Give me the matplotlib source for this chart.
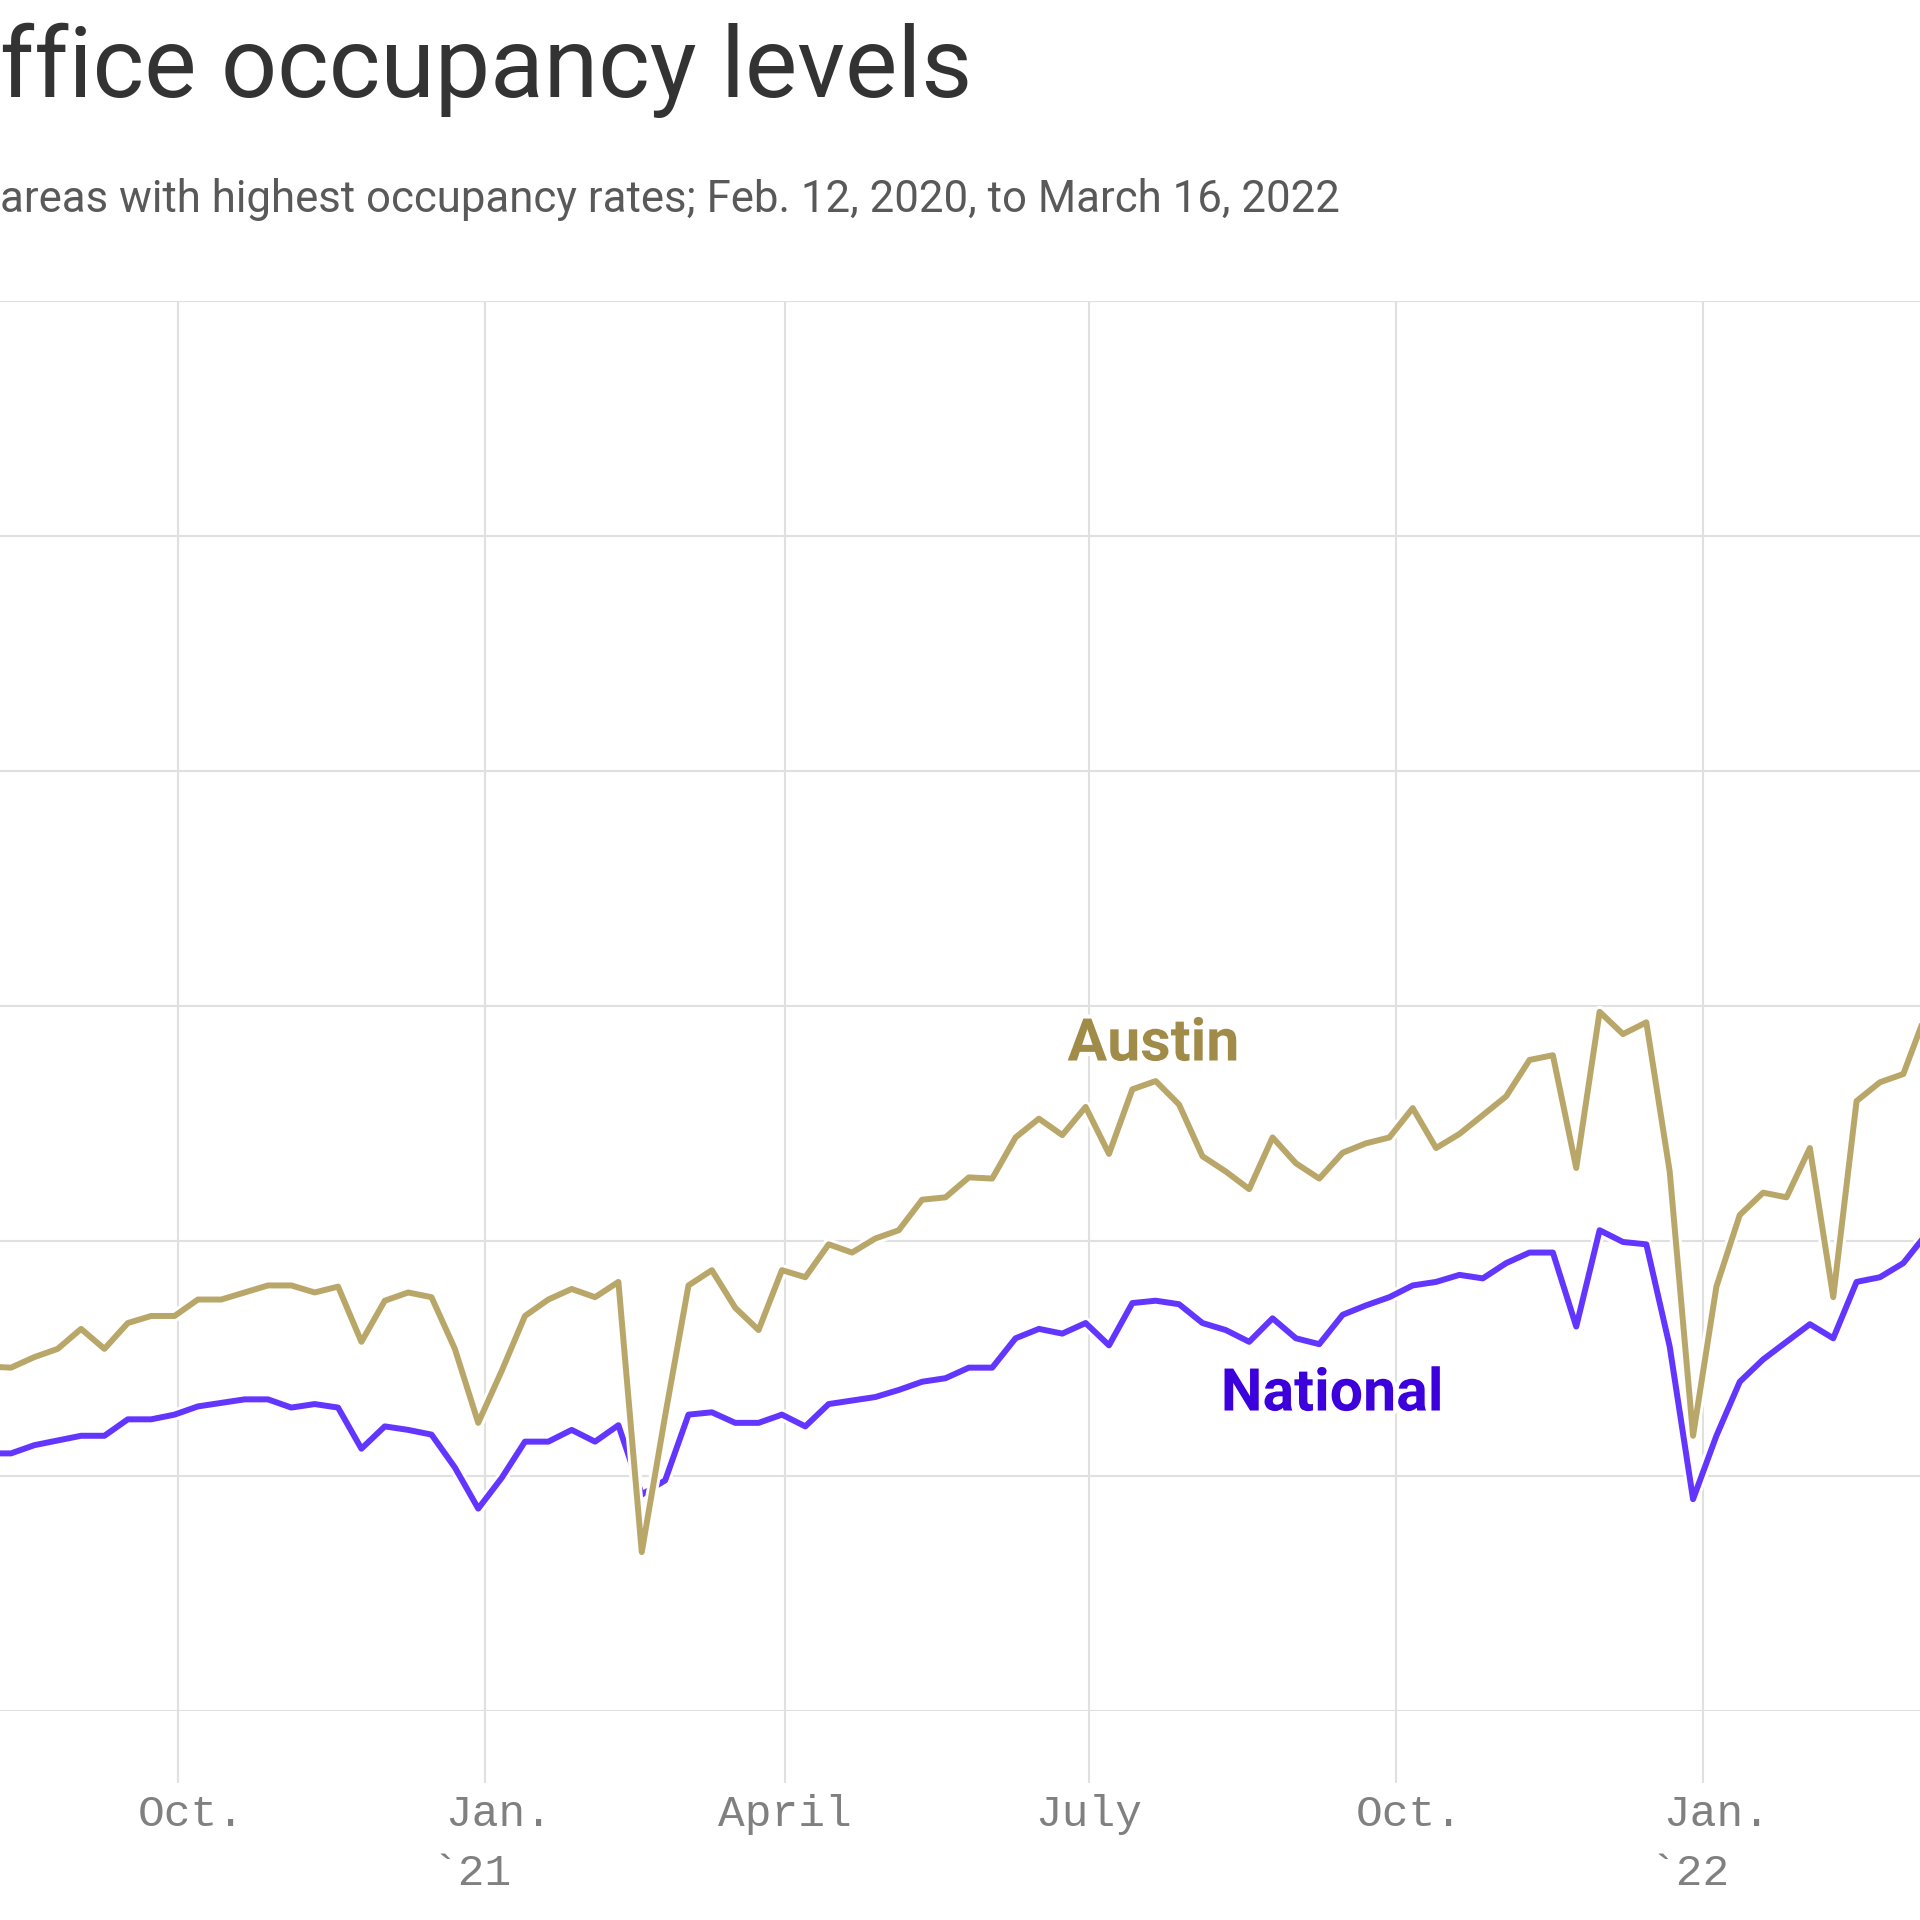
import matplotlib
matplotlib.use("Agg")
import matplotlib.pyplot as plt
import matplotlib.dates as mdates
import matplotlib.patheffects as pe
from matplotlib.transforms import ScaledTranslation
import pandas as pd

# weekly readings (Wednesdays), starting Aug. 5, 2020
start_week = "2020-08-05"
austin = [
    29.3, 29.2, 30.1, 30.8, 32.5, 30.8, 33.0, 33.6, 33.6, 35.0, 35.0, 35.6,
    36.2, 36.2, 35.6, 36.1, 31.4, 34.9, 35.6, 35.2, 30.8, 24.5, 28.9, 33.6,
    35.0, 35.9, 35.2, 36.5, 13.5, 25.1, 36.2, 37.5, 34.3, 32.4, 37.5, 36.9,
    39.7, 39.0, 40.2, 40.9, 43.5, 43.7, 45.4, 45.3, 48.8, 50.4, 49.0, 51.4,
    47.4, 52.9, 53.6, 51.6, 47.2, 45.9, 44.4, 48.8, 46.6, 45.3, 47.5, 48.3,
    48.8, 51.3, 47.9, 49.1, 50.7, 52.3, 55.4, 55.8, 46.2, 59.5, 57.6, 58.6,
    45.9, 23.4, 36.1, 42.2, 44.1, 43.7, 47.9, 35.2, 51.9, 53.5, 54.2, 59.5,
    60.5,
]
national = [
    21.9, 21.9, 22.6, 23.0, 23.4, 23.4, 24.8, 24.8, 25.2, 25.9, 26.2, 26.5,
    26.5, 25.8, 26.1, 25.8, 22.3, 24.2, 23.9, 23.5, 20.7, 17.2, 19.8, 22.9,
    22.9, 23.9, 22.9, 24.3, 18.4, 19.6, 25.2, 25.4, 24.5, 24.5, 25.2, 24.2,
    26.1, 26.4, 26.7, 27.3, 28.0, 28.3, 29.2, 29.2, 31.7, 32.5, 32.1, 33.0,
    31.1, 34.7, 34.9, 34.6, 33.0, 32.4, 31.4, 33.4, 31.7, 31.2, 33.7, 34.5,
    35.2, 36.2, 36.5, 37.1, 36.8, 38.1, 39.0, 39.0, 32.7, 40.9, 39.9, 39.7,
    31.0, 18.0, 23.4, 28.0, 29.9, 31.4, 32.9, 31.7, 36.5, 36.9, 38.1, 40.6,
    41.5,
]
weeks = pd.date_range(start_week, periods=len(austin), freq="7D").to_pydatetime()

tick_dates = ["2020-10-01", "2021-01-01", "2021-04-01", "2021-07-01", "2021-10-01", "2022-01-01"]
tick_months = ["Oct.", "Jan.", "April", "July", "Oct.", "Jan."]
tick_years = ["", "`21", "", "", "", "`22"]
y_grid = [0, 20, 40, 60, 80, 100, 120]

title = "ffice occupancy levels"
subtitle = "areas with highest occupancy rates; Feb. 12, 2020, to March 16, 2022"

AUSTIN_LINE = "#b9a76a"
AUSTIN_TEXT = "#a08b48"
NATIONAL_LINE = "#6236ff"
NATIONAL_TEXT = "#3c00dc"
GRID = "#e0e0e0"

fig = plt.figure(figsize=(19.2, 19.2), dpi=100)
ax = fig.add_axes([0, 0.10906, 1, 0.73406])

halo = [pe.withStroke(linewidth=8.5, foreground="white")]
ax.plot(weeks, national, color=NATIONAL_LINE, lw=4.3, path_effects=halo, zorder=3)
ax.plot(weeks, austin, color=AUSTIN_LINE, lw=4.3, path_effects=halo, zorder=4)

ax.set_xlim(mdates.date2num(pd.Timestamp("2020-08-08 17:00")),
            mdates.date2num(pd.Timestamp("2022-03-07")))
ax.set_ylim(0, 120)
ax.set_yticks(y_grid)
ax.set_xticks([mdates.date2num(pd.Timestamp(d)) for d in tick_dates])
ax.grid(True, color=GRID, lw=1.5)
ax.set_axisbelow(True)
for s in ax.spines.values():
    s.set_visible(False)
ax.tick_params(axis="y", length=0, labelleft=False)
ax.tick_params(axis="x", direction="out", length=52, width=1.5, color=GRID,
               labelbottom=False)

# tick labels, drawn by hand so the trailing period can hang
xt = ax.get_xaxis_transform()
half_char = 9.7 / 72
for d, m, yr in zip(tick_dates, tick_months, tick_years):
    x = mdates.date2num(pd.Timestamp(d))
    dx = half_char if m.endswith(".") else 0
    ax.text(x, -0.0819, m, transform=xt + ScaledTranslation(dx, 0, fig.dpi_scale_trans),
            ha="center", va="baseline", family="Liberation Mono", fontsize=32,
            color="#808080", clip_on=False)
    if yr:
        ax.text(x, -0.1237, yr,
                transform=xt + ScaledTranslation(-half_char, 0, fig.dpi_scale_trans),
                ha="center", va="baseline", family="Liberation Mono", fontsize=32,
                color="#808080", clip_on=False)

lab_halo = [pe.withStroke(linewidth=6, foreground="white")]
ax.text(mdates.date2num(pd.Timestamp("2021-07-20 07:00")), 55.35, "Austin",
        ha="center", va="baseline", family="Roboto", fontweight="bold",
        fontsize=42.5, color=AUSTIN_TEXT, path_effects=lab_halo, zorder=5)
ax.text(mdates.date2num(pd.Timestamp("2021-09-11 19:00")), 25.55, "National",
        ha="center", va="baseline", family="Roboto", fontweight="bold",
        fontsize=42.5, color=NATIONAL_TEXT, path_effects=lab_halo, zorder=5)

fig.text(0, 1 - 96.5 / 1920, title, ha="left", va="baseline", family="Roboto",
         fontsize=71, color="#333333")
fig.text(0, 1 - 212 / 1920, subtitle, ha="left", va="baseline", family="Roboto",
         fontsize=31.5, color="#595959")

fig.savefig("out.png", dpi=100)
